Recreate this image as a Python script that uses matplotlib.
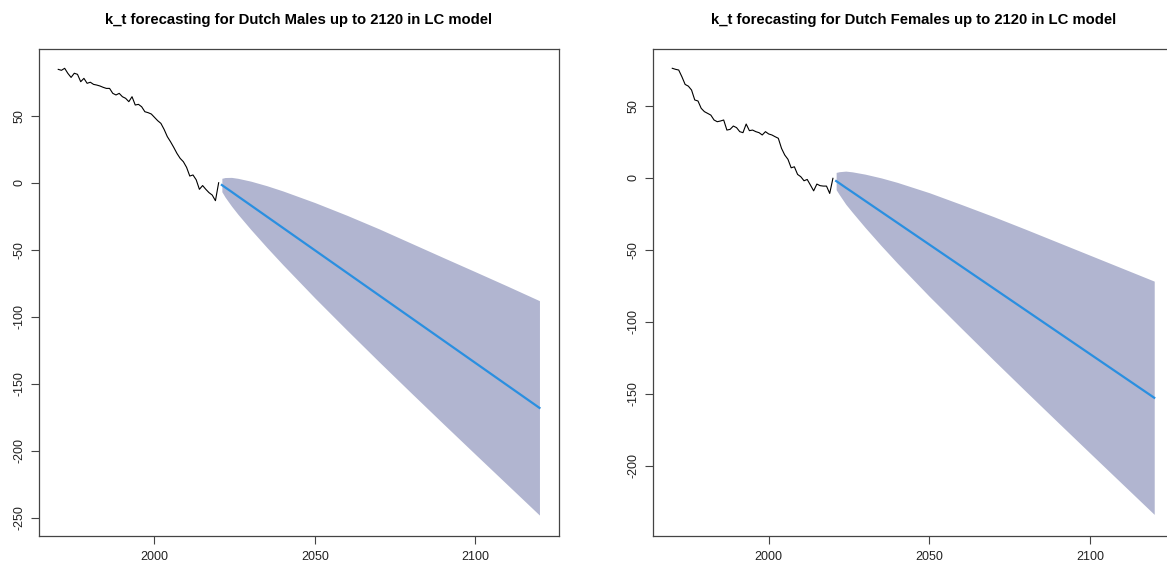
import matplotlib
matplotlib.use("Agg")
import matplotlib.pyplot as plt

plt.rcParams["font.family"] = ["Liberation Sans", "DejaVu Sans"]
plt.rcParams["axes.unicode_minus"] = False

# historical years and k_t values
anos = list(range(1970, 2021))
kt_homens = [84.6, 83.9, 85.4, 81.6, 78.6, 81.7, 80.9, 75.4, 77.9, 74.2,
             75.0, 73.4, 72.9, 72.2, 71.2, 70.4, 70.4, 66.7, 65.5, 66.7,
             64.2, 63.0, 60.5, 64.2, 58.0, 58.5, 56.7, 53.0, 52.3, 51.3,
             48.8, 46.3, 44.3, 39.8, 34.4, 30.6, 26.4, 21.9, 18.2, 15.7,
             11.5, 5.0, 5.8, 2.2, -4.9, -2.1, -4.9, -7.4, -9.2, -13.4,
             0.0]
kt_mulheres = [76.0, 75.3, 74.8, 70.1, 64.8, 63.6, 60.9, 54.0, 53.3, 48.2,
               45.9, 44.7, 43.5, 40.1, 38.9, 39.4, 40.1, 33.1, 33.6, 35.9,
               34.8, 32.0, 31.3, 37.3, 32.7, 33.1, 32.0, 31.3, 29.7, 32.0,
               30.4, 29.7, 28.5, 27.4, 20.4, 15.8, 12.8, 6.9, 7.6, 2.3,
               0.7, -2.1, -1.2, -5.1, -9.1, -4.4, -5.5, -5.8, -5.8, -10.9,
               -0.4]

# forecast (read at a few years)
anos_prev = [2021, 2022, 2024, 2026, 2030, 2035, 2040, 2050, 2060, 2070,
             2080, 2090, 2100, 2110, 2120]
media_homens = [-1.7, -3.4, -6.7, -10.1, -16.8, -25.2, -33.6, -50.4, -67.2, -84.0,
                -100.8, -117.6, -134.4, -151.2, -168.0]
sup_homens = [3.3, 3.9, 4.0, 3.3, 1.2, -2.2, -6.1, -14.8, -24.3, -34.4,
              -45.1, -55.8, -66.4, -77.1, -88.0]
inf_homens = [-6.7, -10.7, -17.4, -23.5, -34.8, -48.2, -61.1, -86.0, -110.0, -133.6,
              -156.8, -179.8, -202.6, -225.3, -248.0]
media_mulheres = [-2.3, -3.8, -6.9, -9.9, -16.0, -23.6, -31.2, -46.4, -61.6, -76.8,
                  -92.0, -107.2, -122.4, -137.6, -152.8]
sup_mulheres = [3.7, 4.2, 4.6, 4.1, 2.5, -0.1, -3.2, -10.4, -18.6, -27.0,
                -35.8, -44.8, -53.8, -62.8, -71.8]
inf_mulheres = [-8.3, -11.8, -18.4, -23.9, -34.5, -47.1, -59.2, -82.4, -104.6, -126.6,
                -148.3, -169.8, -191.2, -212.5, -233.8]

titulos = ["k_t forecasting for Dutch Males up to 2120 in LC model",
           "k_t forecasting for Dutch Females up to 2120 in LC model"]
yticks_list = [[-250, -200, -150, -100, -50, 0, 50], [-200, -150, -100, -50, 0, 50]]
ylims = [(-263.6, 99.8), (-248.8, 89.4)]

W, H = 1167, 569
fig = plt.figure(figsize=(W / 100, H / 100), dpi=100)
posicoes = [[39 / W, 33 / H, 519.7 / W, 487 / H],
            [653 / W, 33 / H, 520.5 / W, 487 / H]]

dados = [(kt_homens, media_homens, sup_homens, inf_homens),
         (kt_mulheres, media_mulheres, sup_mulheres, inf_mulheres)]

for i in range(2):
    ax = fig.add_axes(posicoes[i])
    hist, media, sup, inf = dados[i]
    # band + mean + history
    ax.fill_between(anos_prev, inf, sup, color="#b1b5d0", linewidth=0)
    ax.plot(anos_prev, media, color="#2a8fe0", linewidth=1.6)
    ax.plot(anos, hist, color="black", linewidth=0.8)

    ax.set_xlim(1964, 2126)
    ax.set_ylim(*ylims[i])
    ax.set_xticks([2000, 2050, 2100])
    ax.set_yticks(yticks_list[i])
    ax.set_yticklabels([str(v) for v in yticks_list[i]], rotation=90, va="center")
    ax.tick_params(axis="both", length=6, width=0.8, color="#444444",
                   labelsize=9, labelcolor="#222222")
    ax.tick_params(axis="x", pad=5)
    ax.tick_params(axis="y", pad=4)
    for s in ax.spines.values():
        s.set_color("#444444")
        s.set_linewidth(0.9)
    ax.set_title(titulos[i], fontsize=10.7, fontweight="bold", pad=18)

fig.savefig("out.png", dpi=100)
